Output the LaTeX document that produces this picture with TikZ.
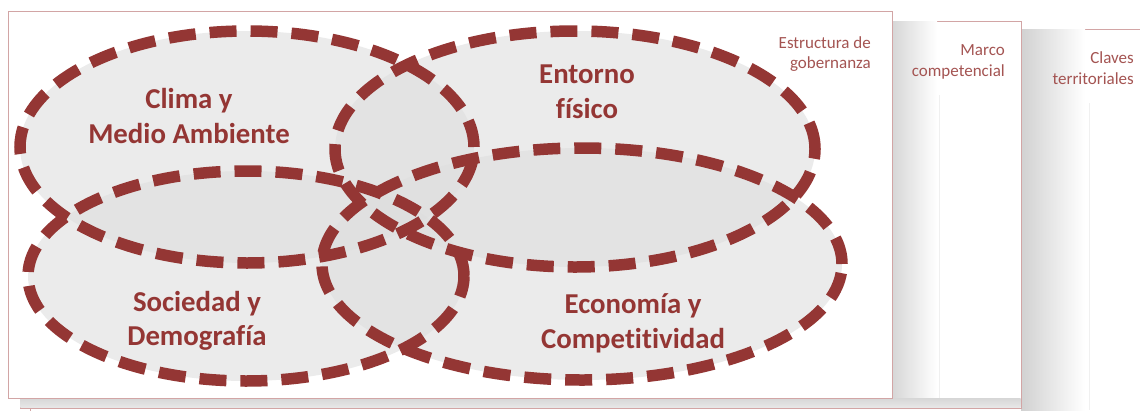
\documentclass[tikz,border=0pt]{standalone}
\usepackage{fontspec}
\setmainfont{Carlito}[Ligatures=NoCommon]
\usetikzlibrary{shapes.geometric}
\definecolor{dred}{RGB}{148,54,52}
\definecolor{cardline}{RGB}{210,165,165}
\definecolor{ellgray}{RGB}{222,222,222}
\begin{document}
\begin{tikzpicture}[x=1pt,y=-1pt,
  card/.style={draw=cardline, line width=0.8pt, fill=white},
  ring/.style={ellipse, draw=dred, line width=11.5pt, dash pattern=on 27pt off 14pt, inner sep=0pt, outer sep=0pt},
  ellfill/.style={fill=ellgray, fill opacity=0.6},
  biglab/.style={font=\bfseries\fontsize{28.8}{33}\selectfont, text=dred, inner sep=0pt, anchor=base},
  smalllab/.style={font=\fontsize{17}{21}\selectfont, text=dred!85, inner sep=0pt, anchor=base east}]

\useasboundingbox (0,0) rectangle (1140,410);
\fill[white] (0,0) rectangle (1140,410);

% card 3 (back)
\draw[card] (30,29) rectangle (1170,425);
\shade[left color=black!18, right color=white] (1021,29.5) rectangle (1085,410);
\draw[black!6, line width=1pt] (1089,103) -- (1089,410);
% card 2
\draw[card] (20,21) rectangle (1021,408);
\shade[left color=black!16, right color=white] (892,21.5) rectangle (937,407.5);
\draw[black!6, line width=1pt] (939,95) -- (939,407.5);
\shade[top color=black!16, bottom color=black!9] (20.4,398) rectangle (1020.6,407.6);
% card 1 (front)
\draw[card] (8,11) rectangle (892,398);

% ellipse centres
\coordinate (cC) at (247,147);
\coordinate (cE) at (575,149);
\coordinate (cS) at (246,276);
\coordinate (cK) at (582,264);

% fills
\fill[ellfill] (cC) ellipse [x radius=227, y radius=116];
\fill[ellfill] (cE) ellipse [x radius=240, y radius=118];
\fill[ellfill] (cS) ellipse [x radius=218, y radius=105];
\fill[ellfill] (cK) ellipse [x radius=260, y radius=116];

% dashed rings
\node[ring, minimum width=454pt, minimum height=232pt] (clima) at (cC) {};
\node[ring, minimum width=480pt, minimum height=236pt] (entorno) at (cE) {};
\node[ring, minimum width=436pt, minimum height=210pt] (sociedad) at (cS) {};
\node[ring, minimum width=520pt, minimum height=232pt] (economia) at (cK) {};

% labels
\node[biglab] (clima1) at (189,108) {Clima y};
\node[biglab] (clima2) at (189,143) {Medio Ambiente};
\node[biglab] (entorno1) at (587,83) {Entorno};
\node[biglab] (entorno2) at (587,118) {físico};
\node[biglab] (soc1) at (197,311) {Sociedad y};
\node[biglab] (soc2) at (197,345) {Demografía};
\node[biglab] (eco1) at (633,313) {Economía y};
\node[biglab] (eco2) at (633,348) {Competitividad};

\node[smalllab] (gob1) at (871,48) {Estructura de};
\node[smalllab] (gob2) at (871,68) {gobernanza};
\node[smalllab] (mar1) at (1005,55) {Marco};
\node[smalllab] (mar2) at (1005,76) {competencial};
\node[smalllab] (cla1) at (1134,63) {Claves};
\node[smalllab] (cla2) at (1134,84) {territoriales};
\end{tikzpicture}
\end{document}
